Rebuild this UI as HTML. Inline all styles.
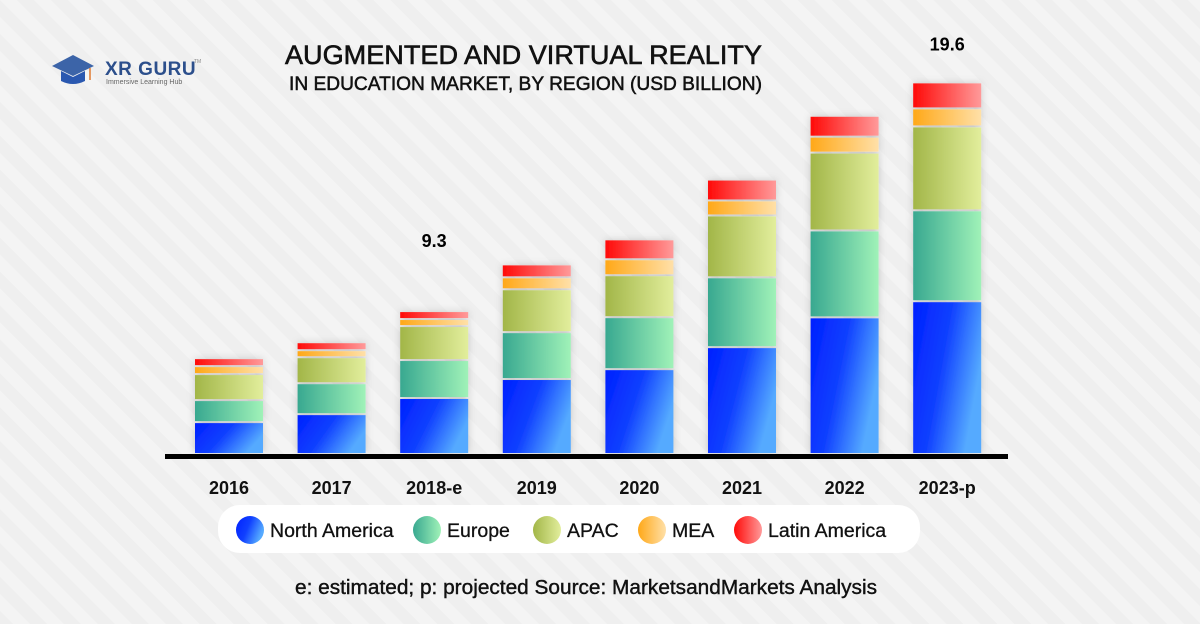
<!DOCTYPE html>
<html><head><meta charset="utf-8">
<style>
body{margin:0;width:1200px;height:624px;overflow:hidden;font-family:"Liberation Sans",Arial,sans-serif;}
svg{display:block}
</style></head>
<body>
<svg id="chart" width="1200" height="624" viewBox="0 0 1200 624" xmlns="http://www.w3.org/2000/svg">
<defs>
<pattern id="stripes" width="24" height="24" patternUnits="userSpaceOnUse" patternTransform="rotate(-45)">
<rect width="24" height="24" fill="#efefef"/><rect width="12" height="24" fill="#f4f4f4"/>
</pattern>
<linearGradient id="g0" x1="0" y1="0" x2="1" y2="0.4"><stop offset="0" stop-color="#0020ff"/><stop offset="0.5" stop-color="#1040ff"/><stop offset="1" stop-color="#55aaff"/></linearGradient>
<linearGradient id="g1" x1="0" y1="0" x2="1" y2="0"><stop offset="0" stop-color="#38a890"/><stop offset="1" stop-color="#a0f2b8"/></linearGradient>
<linearGradient id="g2" x1="0" y1="0" x2="1" y2="0"><stop offset="0" stop-color="#a2b648"/><stop offset="1" stop-color="#e2ee9c"/></linearGradient>
<linearGradient id="g3" x1="0" y1="0" x2="1" y2="0"><stop offset="0" stop-color="#ffa818"/><stop offset="1" stop-color="#ffe0a8"/></linearGradient>
<linearGradient id="g4" x1="0" y1="0" x2="1" y2="0"><stop offset="0" stop-color="#ff0a08"/><stop offset="1" stop-color="#ff9a9a"/></linearGradient>
<filter id="sh" x="-20%" y="-10%" width="140%" height="120%"><feDropShadow dx="0" dy="0" stdDeviation="4" flood-color="#000" flood-opacity="0.18"/></filter>
</defs>
<rect width="1200" height="624" fill="url(#stripes)"/>
<g>
<path d="M52 66 L73 55 L94 66 L73 76 Z" fill="#3c64a8"/>
<path d="M61 71 L61 81 Q73 87 85 81 L85 71 L73 77 Z" fill="#2a58b0"/>
<line x1="90" y1="68" x2="90" y2="80" stroke="#e07a30" stroke-width="1.5"/>
<text x="105" y="75" font-size="19" font-weight="bold" fill="#2c4f8c" letter-spacing="0.5">XR GURU</text>
<text x="194" y="63" font-size="5" fill="#888">TM</text>
<text x="106" y="84" font-size="7" fill="#666">Immersive Learning Hub</text>
</g>
<text x="285" y="64" textLength="477" lengthAdjust="spacingAndGlyphs" font-size="27" fill="#111" stroke="#111" stroke-width="0.6">AUGMENTED AND VIRTUAL REALITY</text>
<text x="289" y="90" textLength="473" lengthAdjust="spacingAndGlyphs" font-size="19" fill="#111" stroke="#111" stroke-width="0.5">IN EDUCATION MARKET, BY REGION (USD BILLION)</text>
<g id="bars"></g>
<rect x="165" y="454" width="843" height="5" fill="#000"/>
<g id="xlabels"></g>
<rect x="218" y="505" width="702" height="48" rx="22" fill="#fff"/>
<g id="legend"></g>
<text x="295" y="594" textLength="582" lengthAdjust="spacingAndGlyphs" font-size="20" fill="#111" stroke="#111" stroke-width="0.4">e: estimated; p: projected Source: MarketsandMarkets Analysis</text>
</svg>
<script>
const categories=["2016","2017","2018-e","2019","2020","2021","2022","2023-p"];
const seriesNames=["North America","Europe","APAC","MEA","Latin America"];
const northAmerica=[1.68,2.1,2.95,3.95,4.47,5.63,7.2,8.05];
const europe=[1.16,1.63,2.0,2.47,2.74,3.68,4.58,4.79];
const apac=[1.37,1.37,1.79,2.26,2.21,3.26,4.1,4.42];
const mea=[0.42,0.37,0.37,0.63,0.84,0.79,0.84,0.95];
const latinAmerica=[0.42,0.42,0.42,0.68,1.05,1.1,1.1,1.37];
const totalLabels=["","","9.3","","","","","19.6"];
const legendX=[250,427,547,652,748];
const NS="http://www.w3.org/2000/svg";
const series=[northAmerica,europe,apac,mea,latinAmerica];
const base=455, scale=372/19.6, barW=68;
function xPos(i){return 195+i*102.6;}
function yPos(v){return base-v*scale;}
const bars=document.getElementById('bars');
categories.forEach((c,i)=>{
  const g=document.createElementNS(NS,'g');
  
  
  g.setAttribute('filter','url(#sh)');
  let cum=0;
  series.forEach((s,k)=>{
    const y0=yPos(cum), y1=yPos(cum+s[i]);
    cum+=s[i];
    const r=document.createElementNS(NS,'rect');
    
    
    r.setAttribute('x',xPos(i));r.setAttribute('y',y1);
    r.setAttribute('width',barW);r.setAttribute('height',Math.max(1,y0-y1-2));
    r.setAttribute('fill','url(#g'+k+')');
    g.appendChild(r);
  });
  bars.appendChild(g);
  if(totalLabels[i]){
    const top=yPos(cum);
    const t=document.createElementNS(NS,'text');
    
    
    t.setAttribute('x',xPos(i)+barW/2);t.setAttribute('y',top-33-(top-83)*0.14);
    t.setAttribute('text-anchor','middle');t.setAttribute('font-size','18');t.setAttribute('font-weight','bold');
    t.textContent=totalLabels[i];bars.appendChild(t);
  }
  const l=document.createElementNS(NS,'text');
  
  
  l.setAttribute('x',xPos(i)+barW/2);l.setAttribute('y',494);
  l.setAttribute('text-anchor','middle');l.setAttribute('font-size','18');l.setAttribute('font-weight','bold');l.setAttribute('fill','#111');
  l.textContent=c;document.getElementById('xlabels').appendChild(l);
});
const leg=document.getElementById('legend');
seriesNames.forEach((n,k)=>{
  const g=document.createElementNS(NS,'g');
  
  
  const c=document.createElementNS(NS,'circle');
  c.setAttribute('cx',legendX[k]);c.setAttribute('cy',530);c.setAttribute('r',14);c.setAttribute('fill','url(#g'+k+')');
  const t=document.createElementNS(NS,'text');
  t.setAttribute('x',legendX[k]+20);t.setAttribute('y',537);t.setAttribute('font-size','19.5');t.setAttribute('fill','#111');
  t.setAttribute('stroke','#111');t.setAttribute('stroke-width','0.3');
  t.textContent=n;
  g.appendChild(c);g.appendChild(t);leg.appendChild(g);
});
</script>
</body></html>
